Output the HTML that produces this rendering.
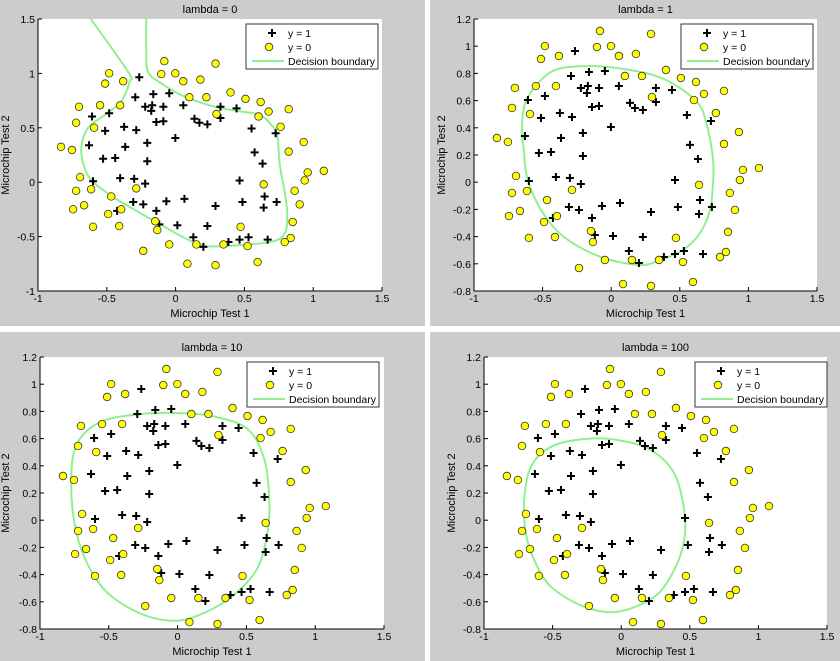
<!DOCTYPE html>
<html><head><meta charset="utf-8">
<style>
html,body{margin:0;padding:0;background:#fff;}
svg{display:block;font-family:"Liberation Sans",Arial,sans-serif;}
</style></head>
<body>
<svg id="fig" width="840" height="661" viewBox="0 0 840 661" xmlns="http://www.w3.org/2000/svg">
<rect x="0" y="0" width="840" height="661" fill="#ffffff"/>
<rect x="0" y="0" width="425" height="326" fill="#cccccc"/>
<rect x="430" y="0" width="410" height="326" fill="#cccccc"/>
<rect x="0" y="332" width="425" height="329" fill="#cccccc"/>
<rect x="430" y="332" width="410" height="329" fill="#cccccc"/>
</svg>
<script>
// Dataset (shared by all four plots)
const posX = [-0.264,-0.293,-0.162,-0.046,-0.221,-0.170,-0.177,-0.089,0.056,0.326,-0.607,-0.483,0.326,0.137,0.173,0.231,-0.140,-0.089,-0.374,-0.512,-0.286,-0.002,-0.206,-0.629,-0.366,-0.527,-0.439,-0.206,0.443,0.552,0.727,0.574,0.632,-0.403,-0.301,-0.221,-0.600,-0.308,-0.235,-0.067,0.064,0.290,-0.140,-0.425,-0.119,0.013,0.231,0.129,0.202,0.465,0.647,0.486,0.640,0.734,0.384,0.465,0.530,0.669];
const posY = [0.965,0.781,0.810,0.818,0.693,0.707,0.656,0.693,0.707,0.693,0.604,0.634,0.590,0.583,0.546,0.531,0.553,0.560,0.509,0.472,0.479,0.406,0.362,0.340,0.325,0.215,0.222,0.193,0.678,0.494,0.450,0.274,0.171,0.038,0.031,-0.013,0.009,-0.182,-0.204,-0.175,-0.153,-0.219,-0.263,-0.263,-0.388,-0.396,-0.403,-0.506,-0.594,0.016,-0.131,-0.182,-0.234,-0.182,-0.550,-0.528,-0.506,-0.528];
const negX = [-0.082,0.290,-0.483,-0.104,-0.002,-0.512,-0.381,0.056,0.180,0.100,0.224,-0.702,-0.549,-0.403,0.297,-0.723,-0.592,-0.833,-0.753,0.399,0.508,0.618,0.822,0.676,0.603,0.763,0.931,0.822,-0.694,-0.723,-0.614,-0.286,-0.468,-0.665,-0.745,-0.395,-0.490,-0.600,-0.410,-0.148,-0.133,-0.046,0.151,0.348,-0.235,0.086,0.290,0.960,1.077,0.938,0.640,0.865,0.902,0.851,0.472,0.836,0.793,0.523,0.596];
const negY = [1.112,1.090,1.001,0.994,1.001,0.906,0.928,0.928,0.943,0.781,0.781,0.693,0.707,0.707,0.626,0.546,0.501,0.325,0.296,0.825,0.766,0.737,0.671,0.649,0.604,0.509,0.369,0.281,0.046,-0.079,-0.065,-0.057,-0.131,-0.212,-0.249,-0.249,-0.293,-0.410,-0.403,-0.359,-0.440,-0.572,-0.572,-0.572,-0.631,-0.749,-0.763,0.090,0.104,0.016,-0.020,-0.079,-0.204,-0.366,-0.410,-0.513,-0.550,-0.587,-0.734];
// Decision boundaries (data coords)
const b0X = [-0.637,-0.346,-0.334,-0.397,-0.515,-0.637,-0.685,-0.661,-0.600,-0.443,-0.273,-0.104,0.066,0.211,0.405,0.696,0.793,0.812,0.793,0.757,0.739,0.696,0.611,0.453,0.284,0.066,-0.104,-0.201,-0.213,-0.213];
const b0Y = [1.537,1.016,0.924,0.740,0.618,0.498,0.314,0.131,0.005,-0.145,-0.271,-0.393,-0.513,-0.584,-0.584,-0.547,-0.470,-0.301,-0.087,0.158,0.434,0.526,0.618,0.654,0.694,0.786,0.909,1.016,1.231,1.537];
const b1X = [-0.636,-0.651,-0.614,-0.439,-0.199,0.093,0.384,0.625,0.698,0.742,0.742,0.720,0.647,0.523,0.355,0.209,-0.075,-0.344,-0.512,-0.614];
const b1Y = [0.237,0.391,0.612,0.810,0.854,0.832,0.759,0.590,0.413,0.171,-0.006,-0.204,-0.374,-0.499,-0.572,-0.609,-0.550,-0.403,-0.204,0.038];
const b10X = [-0.773,-0.737,-0.566,-0.273,-0.005,0.263,0.507,0.629,0.666,0.654,0.580,0.410,0.215,-0.005,-0.249,-0.493,-0.639,-0.737];
const b10Y = [0.256,0.549,0.720,0.780,0.788,0.763,0.671,0.451,0.159,-0.085,-0.354,-0.549,-0.671,-0.739,-0.695,-0.549,-0.354,-0.085];
const b100X = [-0.707,-0.658,-0.512,-0.270,-0.027,0.216,0.386,0.459,0.459,0.386,0.241,-0.027,-0.270,-0.512,-0.634,-0.695];
const b100Y = [0.149,0.393,0.540,0.597,0.590,0.516,0.345,0.075,-0.146,-0.366,-0.563,-0.673,-0.636,-0.489,-0.293,-0.096];
const xTicks = [-1,-0.5,0,0.5,1,1.5];
const xTickLabels = ["-1","-0.5","0","0.5","1","1.5"];
const yTicksA = [-1,-0.5,0,0.5,1,1.5];
const yTickLabelsA = ["-1","-0.5","0","0.5","1","1.5"];
const yTicksB = [-0.8,-0.6,-0.4,-0.2,0,0.2,0.4,0.6,0.8,1,1.2];
const yTickLabelsB = ["-0.8","-0.6","-0.4","-0.2","0","0.2","0.4","0.6","0.8","1","1.2"];
const titles = ["lambda = 0","lambda = 1","lambda = 10","lambda = 100"];

const NS = "http://www.w3.org/2000/svg";
const fig = document.getElementById('fig');
function mk(tag, attrs, parent){
  const e = document.createElementNS(NS, tag);
  for (const k in attrs) e.setAttribute(k, attrs[k]);
  (parent||fig).appendChild(e);
  return e;
}
function smoothPath(pts, closed){
  const n = pts.length;
  const get = i => closed ? pts[(i+n)%n] : pts[Math.max(0,Math.min(n-1,i))];
  let d = "M"+pts[0][0].toFixed(1)+","+pts[0][1].toFixed(1);
  const last = closed ? n : n-1;
  for (let i=0;i<last;i++){
    const p0=get(i-1),p1=get(i),p2=get(i+1),p3=get(i+2);
    const c1=[p1[0]+(p2[0]-p0[0])/6,p1[1]+(p2[1]-p0[1])/6];
    const c2=[p2[0]-(p3[0]-p1[0])/6,p2[1]-(p3[1]-p1[1])/6];
    d+=" C"+c1[0].toFixed(1)+","+c1[1].toFixed(1)+" "+c2[0].toFixed(1)+","+c2[1].toFixed(1)+" "+p2[0].toFixed(1)+","+p2[1].toFixed(1);
  }
  if (closed) d+=" Z";
  return d;
}
function plot(idx, L, R, T, B, ymin, ymax, yTicks, yLabels, bx, by, closed, legX, ylabX){
  const xmin=-1, xmax=1.5;
  const sx = v => L + (v-xmin)/(xmax-xmin)*(R-L);
  const sy = v => B - (v-ymin)/(ymax-ymin)*(B-T);
  const g = mk('g', {});
  
  
  const clipId = 'clip'+idx;
  const cp = mk('clipPath', {id:clipId}, g);
  mk('rect', {x:L,y:T,width:R-L,height:B-T}, cp);
  const bg = mk('rect', {x:L,y:T,width:R-L,height:B-T,fill:'#fff'}, g);
  
  
  const t = mk('text', {x:(L+R)/2,y:T-6,'font-size':11,'text-anchor':'middle',fill:'#000'}, g);
  t.textContent = titles[idx];
  
  
  // boundary
  const pts = bx.map((v,i)=>[sx(v),sy(by[i])]);
  const bp = mk('path', {d:smoothPath(pts, closed),fill:'none',stroke:'#8ef08e','stroke-width':2,'clip-path':'url(#'+clipId+')'}, g);
  
  
  // positives
  for (let i=0;i<posX.length;i++){
    const x=sx(posX[i]), y=sy(posY[i]);
    if (y<T||y>B) continue;
    const p = mk('path', {d:`M${x-4},${y}H${x+4}M${x},${y-4}V${y+4}`,stroke:'#000','stroke-width':2}, g);
    
    
  }
  for (let i=0;i<negX.length;i++){
    const x=sx(negX[i]), y=sy(negY[i]);
    if (y<T||y>B) continue;
    const c = mk('circle', {cx:x,cy:y,r:3.8,fill:'#ffff00',stroke:'#333','stroke-width':0.8}, g);
    
    
  }
  // axes box
  const ax = mk('path', {d:`M${L},${T}V${B}H${R}`,fill:'none',stroke:'#000','stroke-width':1}, g);
  
  
  xTicks.forEach((v,i)=>{
    const x=sx(v);
    const tk = mk('line', {x1:x,x2:x,y1:B,y2:B-4,stroke:'#000'}, g);
    
    
    const tl = mk('text', {x:x,y:B+11,'font-size':10.5,'text-anchor':'middle',fill:'#000'}, g);
    tl.textContent = xTickLabels[i];
    
    
  });
  yTicks.forEach((v,i)=>{
    const y=sy(v);
    const tk = mk('line', {x1:L,x2:L+4,y1:y,y2:y,stroke:'#000'}, g);
    
    
    const tl = mk('text', {x:L-3,y:y+4,'font-size':10.5,'text-anchor':'end',fill:'#000'}, g);
    tl.textContent = yLabels[i];
    
    
  });
  const xl = mk('text', {x:(L+R)/2,y:B+26,'font-size':11,'text-anchor':'middle',fill:'#000'}, g);
  xl.textContent = 'Microchip Test 1';
  
  
  const cy=(T+B)/2;
  const yl = mk('text', {x:ylabX,y:cy,'font-size':11,'text-anchor':'middle',fill:'#000',transform:`rotate(-90 ${ylabX} ${cy})`}, g);
  yl.textContent = 'Microchip Test 2';
  
  
  // legend
  const lg = mk('g', {}, g);
  
  
  const ly=T+5;
  mk('rect', {x:legX,y:ly,width:132,height:45,fill:'#fff',stroke:'#333','stroke-width':1}, lg);
  mk('path', {d:`M${legX+22},${ly+9}H${legX+30}M${legX+26},${ly+5}V${ly+13}`,stroke:'#000','stroke-width':2}, lg);
  mk('circle', {cx:legX+23,cy:ly+23,r:3.8,fill:'#ffff00',stroke:'#333','stroke-width':0.8}, lg);
  mk('line', {x1:legX+6,x2:legX+38,y1:ly+37,y2:ly+37,stroke:'#8ef08e','stroke-width':2}, lg);
  const e1 = mk('text', {x:legX+42,y:ly+13,'font-size':10.5,fill:'#000'}, lg); e1.textContent='y = 1';
  
  
  const e2 = mk('text', {x:legX+42,y:ly+27,'font-size':10.5,fill:'#000'}, lg); e2.textContent='y = 0';
  
  
  const e3 = mk('text', {x:legX+42,y:ly+41,'font-size':10.5,fill:'#000'}, lg); e3.textContent='Decision boundary';
  
  
}
plot(0, 38, 382, 19, 291, -1, 1.5, yTicksA, yTickLabelsA, b0X, b0Y, false, 246, 9);
plot(1, 474, 817, 19, 291, -0.8, 1.2, yTicksB, yTickLabelsB, b1X, b1Y, true, 681, 445);
plot(2, 40, 384, 357, 629, -0.8, 1.2, yTicksB, yTickLabelsB, b10X, b10Y, true, 247, 9);
plot(3, 484, 827, 357, 629, -0.8, 1.2, yTicksB, yTickLabelsB, b100X, b100Y, true, 695, 455);
</script>
</body></html>
